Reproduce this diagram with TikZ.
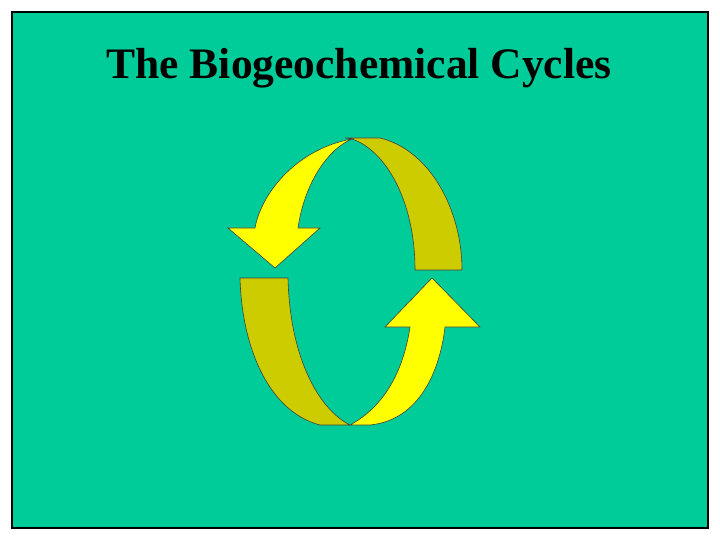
\documentclass[tikz,border=0pt]{standalone}
\usepackage{fontspec}
\setmainfont{Liberation Serif}
\definecolor{bg}{RGB}{0,204,153}
\definecolor{ylw}{RGB}{255,255,0}
\definecolor{dky}{RGB}{204,204,0}
\tikzset{face/.style={draw=black!75,line width=0.6pt}}
\begin{document}
\begin{tikzpicture}[x=1pt,y=-1pt]
\useasboundingbox (0,0) rectangle (720,540);
\fill[white] (0,0) rectangle (720,540);
\node[draw=black,line width=2pt,fill=bg,minimum width=696pt,minimum height=516pt,inner sep=0pt] (frame) at (360,270) {};
\node[font=\bfseries,text=black] (title) at (359,68) {\fontsize{43.5}{50}\selectfont The Biogeochemical Cycles};
% top arrow back face
\path[face,fill=dky] (345,138) -- (380,138) .. controls (430,150) and (462,210) .. (462,270) -- (415,270) .. controls (415,200) and (385,150) .. (352,139) -- cycle;
% top arrow front
\path[face,fill=ylw] (352,139) .. controls (300,148) and (262,190) .. (255,228) -- (228,228) -- (275,268) -- (320,228) -- (298,228) .. controls (305,180) and (330,148) .. (352,139) -- cycle;
% bottom arrow back face
\path[face,fill=dky] (240,278) -- (288,278) .. controls (290,360) and (320,410) .. (350,425) -- (320,425) .. controls (270,412) and (242,350) .. (240,278) -- cycle;
% bottom arrow front
\path[face,fill=ylw] (350,425) -- (370,425) .. controls (420,420) and (440,370) .. (445,327) -- (480,327) -- (432,278) -- (385,327) -- (410,327) .. controls (402,380) and (378,410) .. (350,425) -- cycle;
\end{tikzpicture}
\end{document}
